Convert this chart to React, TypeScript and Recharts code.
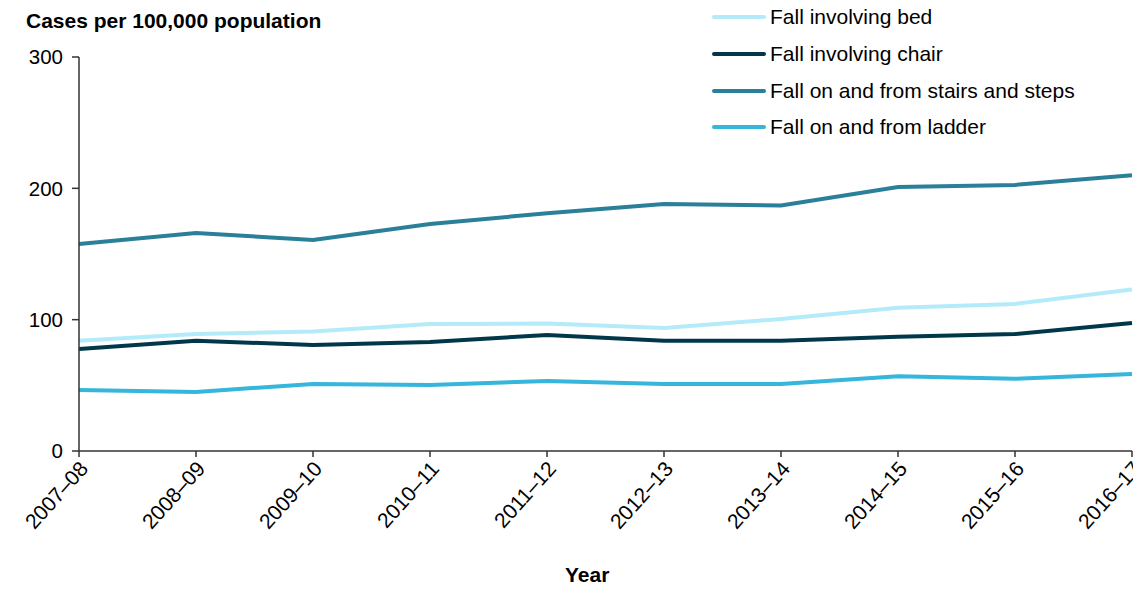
import React from 'react';
import { LineChart, Line, XAxis, YAxis } from 'recharts';

const years = ['2007–08', '2008–09', '2009–10', '2010–11', '2011–12', '2012–13', '2013–14', '2014–15', '2015–16', '2016–17'];
const bed = [84, 89, 91, 96.7, 97, 93.7, 100.5, 109, 112, 123];
const chair = [77.7, 84, 80.7, 83, 88.3, 84, 84, 87, 89, 97.5];
const stairs = [157.6, 166, 160.7, 172.9, 181, 188, 187, 201, 202.6, 210];
const ladder = [46.5, 45, 51, 50.3, 53.3, 51, 51, 57, 55, 58.6];
const yTicks = [0, 100, 200, 300];

const series = [
  { key: 'bed', name: 'Fall involving bed', color: '#b3ebfb' },
  { key: 'chair', name: 'Fall involving chair', color: '#00384a' },
  { key: 'stairs', name: 'Fall on and from stairs and steps', color: '#2a7f99' },
  { key: 'ladder', name: 'Fall on and from ladder', color: '#36b5dd' },
];

const data = years.map((year, i) => ({
  year,
  bed: bed[i],
  chair: chair[i],
  stairs: stairs[i],
  ladder: ladder[i],
}));

const font = '"Liberation Sans", Arial, sans-serif';

const XTick = (props: any) => {
  const { x, y, payload } = props;
  return (
    <g transform={`translate(${x},${y + 4})`}>
      <text x={2} y={12} textAnchor="end" fill="#000" fontSize={21} fontFamily={font} transform="rotate(-48)">
        {payload.value}
      </text>
    </g>
  );
};

export default function App() {
  return (
    <div style={{ position: 'relative', width: 1133, height: 590, fontFamily: font }}>
      <style>{`body{margin:0}`}</style>
      <div style={{ position: 'absolute', left: 26, top: 9, fontSize: 21, fontWeight: 'bold', color: '#000' }}>
        Cases per 100,000 population
      </div>
      <div style={{ position: 'absolute', left: 565, top: 563, fontSize: 21, fontWeight: 'bold', color: '#000' }}>
        Year
      </div>
      <div style={{ position: 'absolute', left: 712, top: -1 }}>
        {series.map((s) => (
          <div key={s.key} style={{ display: 'flex', alignItems: 'center', height: 36.7, fontSize: 21, color: '#000' }}>
            <div style={{ width: 54, height: 4, background: s.color, marginRight: 4, borderRadius: 2 }} />
            <span>{s.name}</span>
          </div>
        ))}
      </div>
      <LineChart width={1133} height={590} data={data} margin={{ top: 57, right: 1, bottom: 0, left: 0 }}>
        <XAxis
          dataKey="year"
          height={139}
          tick={<XTick />}
          tickSize={6}
          interval={0}
          stroke="#333"
          strokeWidth={1.5}
          padding={{ left: 0, right: 0 }}
        />
        <YAxis
          width={79}
          domain={[0, 300]}
          ticks={yTicks}
          tickSize={7}
          tickMargin={9}
          stroke="#333"
          strokeWidth={1.5}
          tick={{ fill: '#000', fontSize: 20.5, fontFamily: font }}
        />
        {series.map((s) => (
          <Line
            key={s.key}
            type="linear"
            dataKey={s.key}
            name={s.name}
            stroke={s.color}
            strokeWidth={4}
            dot={false}
            activeDot={false}
            isAnimationActive={false}
          />
        ))}
      </LineChart>
    </div>
  );
}
